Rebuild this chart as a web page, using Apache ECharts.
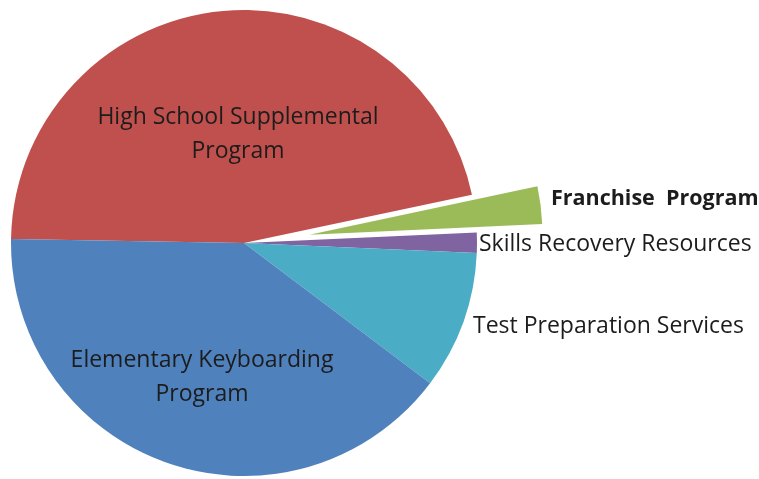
<!DOCTYPE html>
<html><head><meta charset="utf-8">
<script src="https://cdn.jsdelivr.net/npm/echarts@6/dist/echarts.min.js"></script>
<style>html,body{margin:0;padding:0;background:#fff}#c{width:759px;height:479px}</style>
</head><body><div id="c"></div>
<script>
const categories = ["High School Supplemental\nProgram", "Franchise  Program", "Skills Recovery Resources", "Test Preparation Services", "Elementary Keyboarding\nProgram"];
const values = [46.4, 2.6, 1.4, 9.6, 40.0];
const colors = ["#C0504D", "#9BBB59", "#8064A2", "#4BACC6", "#4F81BD"];
const explodedIndex = 1;
const labelPos = [[238, 134, 'center'], [551, 199, 'left'], [479, 244, 'left'], [473, 326, 'left'], [202, 377, 'center']];

const C = [244, 243], R = 233, START = 179, OFFSET = 66;
const total = values.reduce((a, b) => a + b, 0);
let acc = 0;
for (let i = 0; i < explodedIndex; i++) acc += values[i];
const midDeg = START - (acc + values[explodedIndex] / 2) / total * 360;
const C2 = [C[0] + OFFSET * Math.cos(midDeg * Math.PI / 180), C[1] - OFFSET * Math.sin(midDeg * Math.PI / 180)];

const baseLabel = {show: true, position: 'outside', color: '#1c1c1c', fontFamily: 'Open Sans', fontSize: 23, lineHeight: 34, formatter: '{b}'};
const layout = function (p) {
  const q = labelPos[p.dataIndex];
  return {x: q[0], y: q[1], align: q[2], verticalAlign: 'middle'};
};

const chart = echarts.init(document.getElementById('c'), null, {renderer: 'canvas'});
chart.setOption({
  animation: false,
  series: [{
    type: 'pie', center: C, radius: [0, R], startAngle: START, clockwise: true,
    avoidLabelOverlap: false, labelLine: {show: false}, label: baseLabel, labelLayout: layout,
    emphasis: {disabled: true}, silent: true,
    data: categories.map((c, i) => ({
      name: c, value: values[i],
      itemStyle: {color: i === explodedIndex ? 'rgba(0,0,0,0)' : colors[i]},
      label: i === explodedIndex ? {show: false} : {}
    }))
  }, {
    type: 'pie', center: C2, radius: [0, R], startAngle: START, clockwise: true,
    avoidLabelOverlap: false, labelLine: {show: false}, label: baseLabel, labelLayout: layout,
    emphasis: {disabled: true}, silent: true,
    data: categories.map((c, i) => ({
      name: c, value: values[i],
      itemStyle: {color: i === explodedIndex ? colors[i] : 'rgba(0,0,0,0)'},
      label: i === explodedIndex ? {fontWeight: 'bold', fontSize: 21.5} : {show: false}
    }))
  }]
});
</script></body></html>
